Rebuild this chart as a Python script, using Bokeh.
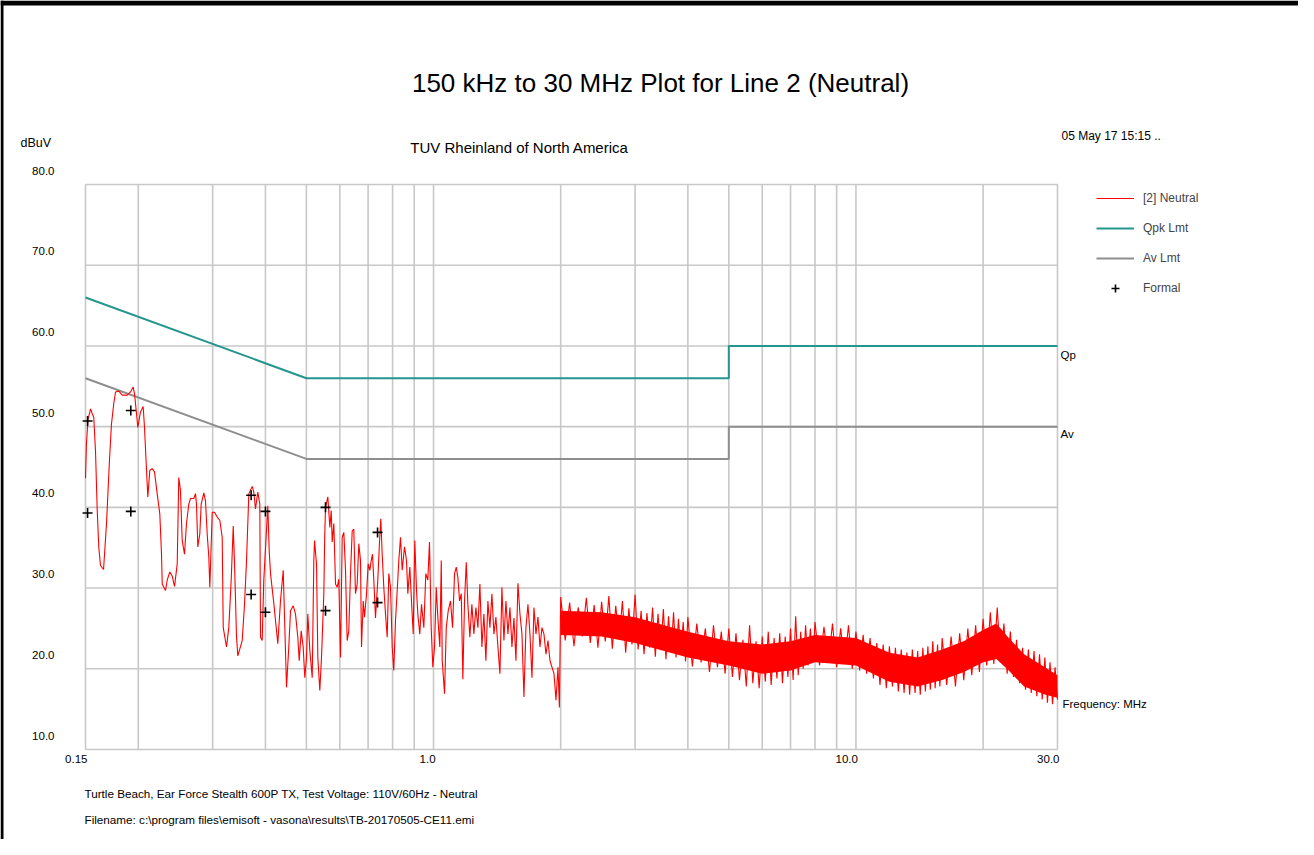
import math
from bokeh.plotting import figure
from bokeh.models import Label, Legend, LegendItem, Range1d, BoxAnnotation
from bokeh.embed import file_html
from bokeh.resources import INLINE

# ---------------- data ----------------
# Measured trace "[2] Neutral" (frequency MHz, level dBuV)
FREQ_LOW = [0.150, 0.1508, 0.1521, 0.1542, 0.1556, 0.1569, 0.1584, 0.1599, 0.1613, 0.1628,
            0.1655, 0.1682, 0.1710, 0.1728, 0.1750, 0.1767, 0.1799, 0.1832, 0.1883, 0.1917,
            0.1945, 0.1959, 0.1981, 0.1995, 0.2024, 0.2054, 0.2069, 0.2092, 0.2107, 0.2130,
            0.2158, 0.2185, 0.2217, 0.2249, 0.2270, 0.2279, 0.2320, 0.2342, 0.2375, 0.2406,
            0.2437, 0.2473, 0.2494, 0.2517, 0.2541, 0.2573, 0.2601, 0.2634, 0.2659, 0.2707,
            0.2732, 0.2747, 0.2767, 0.2797, 0.2818, 0.2859, 0.2885, 0.2912, 0.2938, 0.2954,
            0.2993, 0.3030, 0.3075, 0.3119, 0.3160, 0.3178, 0.3235, 0.3276, 0.3319, 0.3356,
            0.3380, 0.3417, 0.3441, 0.3524, 0.3569, 0.3608, 0.3654, 0.3722, 0.3754, 0.3789,
            0.3837, 0.3879, 0.3894, 0.3930, 0.3964, 0.4052, 0.4083, 0.4112, 0.4187, 0.4279,
            0.4342, 0.4407, 0.4487, 0.4543, 0.4586, 0.4654, 0.4712, 0.4772, 0.4809, 0.4861,
            0.4914, 0.4957, 0.5004, 0.5039, 0.5095, 0.5162, 0.5207, 0.5227, 0.5284, 0.5322,
            0.5380, 0.5430, 0.5499, 0.5525, 0.5550, 0.5620, 0.5682, 0.5725, 0.5756, 0.5807,
            0.5861, 0.5915, 0.5967, 0.6022, 0.6079, 0.6132, 0.6189, 0.6246, 0.6301, 0.6360,
            0.6419, 0.6475, 0.6535, 0.6596, 0.6654, 0.6716, 0.6753, 0.6816, 0.6864, 0.6940,
            0.7004, 0.7065, 0.7120, 0.7170, 0.7221, 0.7288, 0.7380, 0.7449, 0.7502, 0.7559,
            0.7625, 0.7697, 0.7768, 0.7836, 0.7909, 0.7983, 0.8052, 0.8128, 0.8204, 0.8275,
            0.8352, 0.8430, 0.8537, 0.8630, 0.8692, 0.8787, 0.8868, 0.8951, 0.9029, 0.9114,
            0.9178, 0.9279, 0.9365, 0.9484, 0.9588, 0.9693, 0.9783, 0.9873, 0.9961]
LEVEL_LOW = [43.6, 48.0, 50.9, 52.2, 51.6, 51.2, 47.0, 39.6, 35.0, 32.8,
             32.3, 38.0, 46.0, 50.3, 52.9, 54.3, 54.4, 53.9, 53.9, 54.3,
             54.9, 54.1, 51.6, 49.9, 51.8, 52.5, 49.9, 44.6, 41.3, 44.6,
             44.8, 44.4, 41.7, 39.2, 34.2, 30.5, 29.7, 31.0, 32.0, 31.5,
             30.2, 33.0, 43.7, 42.1, 35.9, 34.2, 38.0, 40.4, 41.1, 41.1,
             41.7, 40.4, 35.1, 36.7, 40.4, 41.8, 40.8, 36.7, 33.8, 30.1,
             39.4, 39.4, 38.8, 38.4, 36.3, 25.1, 22.7, 25.1, 31.0, 37.7,
             33.0, 23.9, 21.6, 23.5, 28.0, 33.4, 41.7, 42.6, 41.9, 39.8,
             41.9, 40.4, 23.9, 23.5, 31.0, 40.2, 34.6, 31.8, 28.1, 23.1,
             28.4, 32.2, 17.7, 22.7, 27.2, 27.8, 26.8, 23.9, 21.0, 24.7,
             22.7, 18.9, 21.4, 26.8, 22.3, 18.9, 33.4, 35.9, 33.0, 21.4,
             17.3, 21.4, 29.3, 36.3, 40.0, 41.3, 37.5, 39.6, 35.7, 38.0,
             30.5, 30.1, 31.1, 21.4, 36.3, 36.9, 32.2, 23.5, 24.7, 31.8,
             37.1, 37.3, 29.3, 30.5, 35.5, 33.4, 22.7, 28.4, 26.4, 29.3,
             33.0, 32.2, 33.4, 34.2, 31.0, 26.3, 31.0, 35.7, 38.6, 34.2,
             30.1, 26.8, 23.9, 31.8, 30.1, 22.7, 19.8, 26.0, 29.7, 33.4,
             36.3, 32.2, 35.1, 33.4, 29.3, 32.6, 28.4, 24.3, 35.9, 29.7,
             26.8, 24.3, 28.0, 25.1, 31.8, 31.0, 35.7, 25.1, 20.2]

FREQ_MID = [1.0055, 1.0148, 1.0237, 1.0349, 1.0430, 1.0486, 1.0618, 1.0718, 1.0835, 1.0971,
            1.1092, 1.1214, 1.1319, 1.1418, 1.1524, 1.1631, 1.1733, 1.1842, 1.1953, 1.2058,
            1.2190, 1.2324, 1.2459, 1.2596, 1.2735, 1.2875, 1.3016, 1.3159, 1.3303, 1.3449,
            1.3597, 1.3746, 1.3897, 1.4049, 1.4204, 1.4360, 1.4517, 1.4677, 1.4838, 1.5001,
            1.5165, 1.5332, 1.5500, 1.5670, 1.5842, 1.6016, 1.6192, 1.6369, 1.6549, 1.6731,
            1.6914, 1.7100, 1.7288, 1.7477, 1.7669, 1.7863, 1.8059, 1.8257, 1.8458, 1.8660,
            1.8865, 1.9072, 1.9282, 1.9493, 1.9707, 1.9858]
LEVEL_MID = [22.7, 30.1, 26.4, 22.7, 33.4, 21.0, 16.9, 25.1, 27.2, 28.4,
             25.1, 31.8, 32.6, 31.3, 28.4, 29.3, 18.7, 28.4, 33.2, 28.0,
             23.9, 28.0, 24.3, 27.6, 25.1, 30.5, 22.7, 26.8, 21.0, 28.4,
             25.1, 29.3, 24.3, 26.4, 22.7, 19.4, 30.1, 23.5, 28.4, 24.3,
             27.6, 22.7, 26.3, 21.0, 30.6, 26.8, 24.3, 16.5, 25.1, 28.0,
             24.3, 18.9, 27.6, 24.3, 26.4, 22.7, 25.1, 24.3, 21.8, 23.5,
             21.0, 20.2, 19.4, 16.1, 20.2, 15.2]

FREQ_HIGH = [2.00, 2.05, 2.10, 2.15, 2.20, 2.25, 2.30, 2.35, 2.40, 2.45,
             2.50, 2.55, 2.60, 2.65, 2.70, 2.75, 2.80, 2.85, 2.90, 2.95,
             3.00, 3.05, 3.10, 3.15, 3.20, 3.25, 3.30, 3.35, 3.40, 3.45,
             3.50, 3.55, 3.60, 3.65, 3.70, 3.75, 3.80, 3.85, 3.90, 3.95,
             4.00, 4.1, 4.2, 4.3, 4.4, 4.5, 4.6, 4.7, 4.8, 4.9,
             5.0, 5.1, 5.2, 5.3, 5.4, 5.5, 5.6, 5.7, 5.8, 5.9,
             6.0, 6.1, 6.2, 6.3, 6.4, 6.5, 6.6, 6.7, 6.8, 6.9,
             7.0, 7.1, 7.2, 7.3, 7.4, 7.5, 7.6, 7.7, 7.8, 7.9,
             8.0, 8.2, 8.4, 8.6, 8.8, 9.0, 9.2, 9.4, 9.6, 9.8,
             10.0, 10.2, 10.4, 10.6, 10.8, 11.0, 11.2, 11.4, 11.6, 11.8,
             12.0, 12.2, 12.4, 12.6, 12.8, 13.0, 13.2, 13.4, 13.6, 13.8,
             14.0, 14.2, 14.4, 14.6, 14.8, 15.0, 15.2, 15.4, 15.6, 15.8,
             16.0, 16.4, 16.8, 17.2, 17.6, 18.0, 18.4, 18.8, 19.2, 19.6,
             20.0, 20.4, 20.8, 21.2, 21.6, 22.0, 22.4, 22.8, 23.2, 23.6,
             24.0, 24.4, 24.8, 25.2, 25.6, 26.0, 26.4, 26.8, 27.2, 27.6,
             28.0, 28.4, 28.8, 29.2, 29.6, 30.0]
LEVEL_HIGH = [28.9, 23.5, 28.2, 22.8, 27.6, 24.0, 28.8, 23.2, 27.9, 22.6,
              28.3, 23.4, 29.0, 22.5, 27.8, 23.6, 28.4, 22.0, 27.5, 23.0,
              29.2, 22.4, 27.2, 21.8, 26.9, 22.6, 27.6, 21.5, 26.8, 22.3,
              27.4, 21.2, 26.5, 22.0, 27.0, 21.4, 26.2, 22.1, 25.8, 20.9,
              26.4, 20.3, 25.6, 20.8, 25.0, 19.6, 25.4, 20.2, 24.6, 19.4,
              25.0, 19.0, 24.4, 18.6, 23.6, 17.8, 25.4, 18.2, 23.4, 17.6,
              24.0, 18.4, 24.6, 18.0, 23.8, 18.8, 24.4, 18.2, 24.0, 19.0,
              25.0, 18.6, 26.5, 19.2, 24.6, 20.0, 25.4, 20.4, 25.0, 20.8,
              25.8, 20.4, 25.2, 20.8, 25.6, 20.2, 25.0, 20.6, 25.4, 20.0,
              24.6, 19.8, 24.2, 19.4, 23.8, 18.8, 23.2, 18.0, 23.0, 17.6,
              22.8, 17.8, 22.6, 17.2, 22.4, 17.0, 22.0, 16.8, 22.4, 17.0,
              22.2, 16.8, 22.6, 17.2, 22.8, 17.4, 23.4, 17.6, 23.0, 17.8,
              23.8, 18.0, 24.0, 17.8, 24.4, 18.6, 25.0, 19.2, 25.4, 19.6,
              26.2, 20.4, 27.0, 20.6, 27.6, 20.8, 25.6, 19.4, 24.6, 19.0,
              23.6, 18.2, 22.6, 17.4, 22.4, 17.0, 22.2, 16.6, 21.8, 16.2,
              21.4, 15.8, 20.8, 15.6, 20.2, 16.2]

# Solid core of the dense part of the trace (lower / upper edge of the filled band)
CORE_FREQ = [2.0, 2.5, 3.0, 4.0, 5.0, 6.0, 7.0, 8.0, 10.0, 12.0, 14.0, 16.0, 18.0, 20.0, 21.5, 23.0, 25.0, 28.0, 30.0]
CORE_LOW = [24.2, 24.0, 23.2, 21.4, 20.4, 19.4, 19.8, 20.8, 20.4, 18.4, 17.8, 18.6, 19.6, 20.8, 21.2, 19.8, 17.8, 16.8, 16.4]
CORE_HIGH = [27.2, 27.0, 26.4, 24.6, 23.4, 23.0, 23.4, 24.2, 23.8, 22.0, 21.4, 22.4, 23.4, 24.8, 25.6, 23.8, 21.8, 20.2, 19.2]

# Limit lines
QPK_FREQ = [0.15, 0.5, 5.0, 5.0, 30.0]
QPK_LEVEL = [66.0, 56.0, 56.0, 60.0, 60.0]
AV_FREQ = [0.15, 0.5, 5.0, 5.0, 30.0]
AV_LEVEL = [56.0, 46.0, 46.0, 50.0, 50.0]

# Formal (final) measurement points
FORMAL_FREQ = [0.1517, 0.1517, 0.192, 0.192, 0.370, 0.370, 0.400, 0.400, 0.555, 0.555, 0.737, 0.737]
FORMAL_LEVEL = [50.7, 39.3, 52.0, 39.5, 41.5, 29.2, 39.5, 27.0, 40.0, 27.2, 36.9, 28.2]

# Axes / grid
X_MIN, X_MAX = 0.15, 30.0
Y_MIN, Y_MAX = 10.0, 80.0
X_GRID = [0.15, 0.2, 0.3, 0.4, 0.5, 0.6, 0.7, 0.8, 0.9, 1.0, 2.0, 3.0, 4.0, 5.0, 6.0, 7.0, 8.0, 9.0, 10.0, 20.0, 30.0]
X_TICKS = [0.15, 1.0, 10.0, 30.0]
X_TICK_LABELS = ["0.15", "1.0", "10.0", "30.0"]
Y_TICKS = [10, 20, 30, 40, 50, 60, 70, 80]
Y_TICK_LABELS = ["10.0", "20.0", "30.0", "40.0", "50.0", "60.0", "70.0", "80.0"]

TITLE = "150 kHz to 30 MHz Plot for Line 2 (Neutral)"
SUBTITLE = "TUV Rheinland of North America"
DATE = "05 May 17 15:15 .."
NOTE1 = "Turtle Beach, Ear Force Stealth 600P TX, Test Voltage: 110V/60Hz - Neutral"
NOTE2 = "Filename: c:\\program files\\emisoft - vasona\\results\\TB-20170505-CE11.emi"

# ---------------- layout (pixels) ----------------
W, H = 1298, 839
PLOT_L, PLOT_R, PLOT_T, PLOT_B = 85, 1057, 184, 749
GRID = "#c8c8c8"
RED = "#ff0000"
TEAL = "#24958f"
GREY = "#8e8e8e"
FONT = "Liberation Sans"

# The frame covers the whole canvas (so that texts around the plot are not clipped);
# the ranges are set so that the data box sits at PLOT_L..PLOT_R / PLOT_T..PLOT_B.
dec_px = (PLOT_R - PLOT_L) / math.log10(X_MAX / X_MIN)
unit_px = (PLOT_B - PLOT_T) / (Y_MAX - Y_MIN)
x0 = X_MIN / 10 ** (PLOT_L / dec_px)
x1 = X_MAX * 10 ** ((W - PLOT_R) / dec_px)
y1 = Y_MAX + PLOT_T / unit_px
y0 = Y_MIN - (H - PLOT_B) / unit_px

p = figure(width=W, height=H, x_axis_type="log", output_backend="svg", toolbar_location=None,
           x_range=Range1d(x0, x1), y_range=Range1d(y0, y1),
           min_border=0, min_border_left=0, min_border_right=0, min_border_top=0, min_border_bottom=0)
p.xaxis.visible = False
p.yaxis.visible = False
p.xgrid.visible = False
p.ygrid.visible = False
p.outline_line_color = None
p.background_fill_color = "white"
p.border_fill_color = "white"

# grid of the data box, from the tick arrays
p.segment(x0=X_GRID, y0=[Y_MIN] * len(X_GRID), x1=X_GRID, y1=[Y_MAX] * len(X_GRID),
          line_color=GRID, line_width=1.6)
p.segment(x0=[X_MIN] * len(Y_TICKS), y0=Y_TICKS, x1=[X_MAX] * len(Y_TICKS), y1=Y_TICKS,
          line_color=GRID, line_width=1.6)

# black frame of the page (top bar, left edge)
p.add_layout(BoxAnnotation(bottom=y1 - 5 / unit_px, fill_color="black", fill_alpha=1, line_color=None))
p.add_layout(BoxAnnotation(right=x0 * 10 ** (3 / dec_px), fill_color="black", fill_alpha=1, line_color=None))

r_av = p.line(AV_FREQ, AV_LEVEL, line_color=GREY, line_width=2)
r_qp = p.line(QPK_FREQ, QPK_LEVEL, line_color=TEAL, line_width=2)
p.varea(x=CORE_FREQ, y1=CORE_LOW, y2=CORE_HIGH, fill_color=RED)
r_tr = p.line(FREQ_LOW + FREQ_MID + FREQ_HIGH, LEVEL_LOW + LEVEL_MID + LEVEL_HIGH,
              line_color=RED, line_width=1.1)
r_pts = p.scatter(FORMAL_FREQ, FORMAL_LEVEL, marker="cross", size=10, line_color="black", line_width=1.6)

legend = Legend(items=[LegendItem(label="[2] Neutral", renderers=[r_tr]),
                       LegendItem(label="Qpk Lmt", renderers=[r_qp]),
                       LegendItem(label="Av Lmt", renderers=[r_av]),
                       LegendItem(label="Formal", renderers=[r_pts])],
                location=(1096, H - 298), glyph_width=38, glyph_height=20, label_height=20,
                spacing=10, padding=0, margin=0, label_standoff=9,
                border_line_color=None, background_fill_alpha=0,
                label_text_font=FONT, label_text_font_size="12px")
p.add_layout(legend)


def lab(text, x, y, dx, dy, size="11.5px", align="left", baseline="middle", font=FONT, color="black"):
    p.add_layout(Label(x=x, y=y, x_offset=dx, y_offset=dy, text=text, text_font=font,
                       text_font_size=size, text_align=align, text_baseline=baseline,
                       text_color=color))


# tick labels
for v, t in zip(Y_TICKS, Y_TICK_LABELS):
    lab(t, X_MIN, v, -31, 14, align="right")
for v, t in zip(X_TICKS, X_TICK_LABELS):
    lab(t, v, Y_MIN, 2, -9, align="right")

# texts around the chart
lab(TITLE, X_MIN, Y_MAX, 575, 102, size="26px", align="center")
lab(SUBTITLE, X_MIN, Y_MAX, 434, 37, size="15px", align="center")
lab(DATE, X_MIN, Y_MAX, 976, 49, size="12px")
lab("dBuV", X_MIN, Y_MAX, -65, 42, size="12.5px")
lab("Qp", X_MAX, 60, 3, -9)
lab("Av", X_MAX, 50, 3, -7)
lab("Frequency: MHz", X_MAX, Y_MIN, 5, 46)
lab(NOTE1, X_MIN, Y_MIN, -1, -44, size="11.7px")
lab(NOTE2, X_MIN, Y_MIN, -1, -70, size="11.7px")

open("out.html", "w").write(file_html(p, INLINE))
